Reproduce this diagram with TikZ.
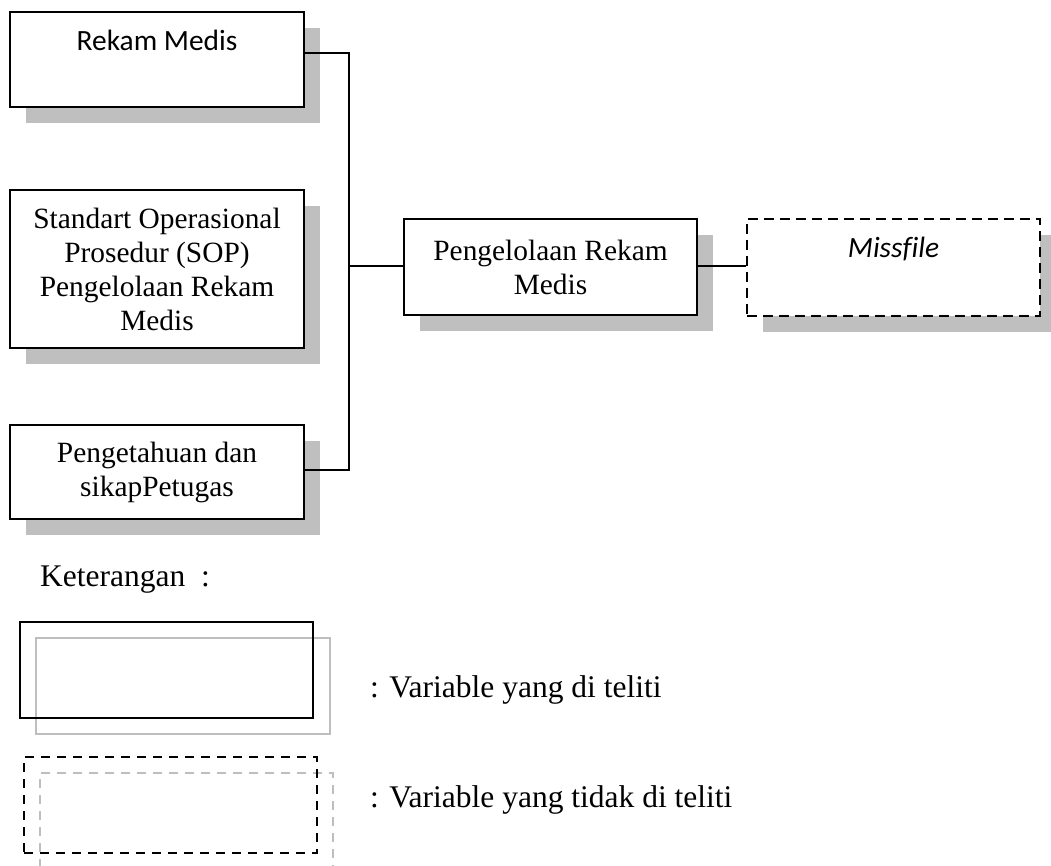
\documentclass[tikz,border=0pt]{standalone}
\usepackage{fontspec}
\setmainfont{Liberation Serif}
\newfontfamily\calfont[Ligatures=NoCommon]{Carlito}
\usetikzlibrary{shadows}
\definecolor{shadowgray}{RGB}{191,191,191}
\definecolor{legendgray}{RGB}{190,190,190}
\begin{document}
\begin{tikzpicture}[x=1pt,y=-1pt,
  boxshape/.style={draw=black, line width=2.8pt, fill=white, inner sep=0pt,
    align=center, font=\fontsize{29.4}{34}\selectfont,
    general shadow={fill=shadowgray, shadow xshift=16pt, shadow yshift=-16pt}},
  dashbox/.style={boxshape, dash pattern=on 10pt off 6pt},
  caltext/.style={inner sep=0pt, anchor=base, font=\calfont\fontsize{29.4}{34}\selectfont},
  conn/.style={draw=black, line width=2.3pt},
  legtext/.style={inner sep=0pt, anchor=base west, font=\fontsize{31.5}{36}\selectfont},
  legsolid/.style={draw=black, line width=2.4pt, inner sep=0pt, minimum width=293pt, minimum height=96pt},
  leggray/.style={draw=legendgray, line width=2pt, inner sep=0pt, minimum width=294pt, minimum height=96pt},
  legdash/.style={draw=black, line width=2.8pt, dash pattern=on 9pt off 7pt, inner sep=0pt, minimum width=293pt, minimum height=96pt},
  leggraydash/.style={draw=legendgray, line width=2.4pt, dash pattern=on 9pt off 7pt, inner sep=0pt, minimum width=293pt, minimum height=96pt}
]
\useasboundingbox (0,0) rectangle (1051,865);

% boxes
\node[boxshape, minimum width=294pt, minimum height=95pt] (rm) at (157,59.5) {};
\node[caltext] (rmt) at (157,50) {Rekam Medis};

\node[boxshape, minimum width=294pt, minimum height=158pt] (sop) at (157,269)
  {Standart Operasional\\Prosedur (SOP)\\Pengelolaan Rekam\\Medis};

\node[boxshape, minimum width=294pt, minimum height=94pt] (pk) at (157,472)
  {Pengetahuan dan\\sikapPetugas};

\node[boxshape, minimum width=293pt, minimum height=96pt] (pg) at (550.5,267)
  {Pengelolaan Rekam\\Medis};

\node[dashbox, minimum width=293pt, minimum height=97pt] (mf) at (893.5,267.5) {};
\node[caltext] (mft) at (893.5,257) {\itshape Missfile};

% connectors
\coordinate (t1) at (349,53);
\coordinate (tm) at (349,266);
\coordinate (t3) at (349,470);
\draw[conn] (rm.east |- t1) -- (t1) -- (t3) -- (pk.east |- t3);
\draw[conn] (tm) -- (pg.west |- tm);
\draw[conn] (pg.east |- tm) -- (mf.west |- tm);

% legend
\node[legtext] (ket) at (40,586) {Keterangan~~:};
\node[leggray] (lg1) at (183,686) {};
\node[legsolid] (ls1) at (166.5,670) {};
\node[legtext] (lt1) at (370,697) {: Variable yang di teliti};
\node[leggraydash] (lg2) at (186.5,821) {};
\node[legdash] (ld2) at (170.5,805) {};
\node[legtext] (lt2) at (370,807) {: Variable yang tidak di teliti};
\end{tikzpicture}
\end{document}
